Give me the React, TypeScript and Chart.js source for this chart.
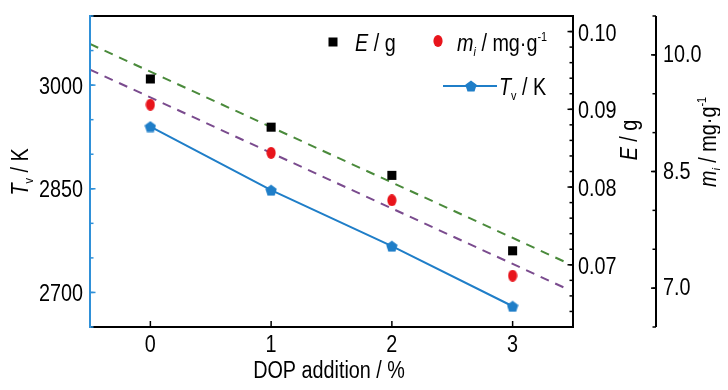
import React, { useEffect, useRef } from "react";
import { Chart, registerables } from "chart.js";

Chart.register(...registerables);

// ---------- data ----------
const doses = [0, 1, 2, 3];
const eValues = [0.0939, 0.0877, 0.0815, 0.0718];
const mValues = [9.36, 8.74, 8.13, 7.16];
const tValues = [2940, 2848, 2767, 2680];
const eFitX = [-0.5, 3.43];
const eFitY = [0.0984, 0.0704];
const mFitX = [-0.5, 3.45];
const mFitY = [9.81, 6.99];

const xTicks = [0, 1, 2, 3];
const xTickLabels = ["0", "1", "2", "3"];
const tTicks = [2700, 2850, 3000];
const tTickLabels = ["2700", "2850", "3000"];
const tMinor = [2650, 2700, 2750, 2800, 2850, 2900, 2950, 3000, 3050, 3100];
const eTicks = [0.07, 0.08, 0.09, 0.1];
const eTickLabels = ["0.07", "0.08", "0.09", "0.10"];
const eMinor = [0.064, 0.066, 0.068, 0.07, 0.072, 0.074, 0.076, 0.078, 0.08, 0.082, 0.084, 0.086, 0.088, 0.09, 0.092, 0.094, 0.096, 0.098, 0.1];
const mTicks = [7.0, 8.5, 10.0];
const mTickLabels = ["7.0", "8.5", "10.0"];
const mMinor = [6.5, 7.0, 7.5, 8.0, 8.5, 9.0, 9.5, 10.0, 10.5];

type Part = { t: string; italic?: boolean; sub?: boolean; sup?: boolean };
const legendE: Part[] = [{ t: "E", italic: true }, { t: " / g" }];
const legendM: Part[] = [{ t: "m", italic: true }, { t: "i", italic: true, sub: true }, { t: " / mg·g" }, { t: "-1", sup: true }];
const legendT: Part[] = [{ t: "T", italic: true }, { t: "v", sub: true }, { t: " / K" }];
const titleX: Part[] = [{ t: "DOP addition / %" }];
const titleT: Part[] = legendT;
const titleE: Part[] = legendE;
const titleM: Part[] = legendM;

// ---------- styles ----------
const FONT = '"Liberation Sans", Arial, sans-serif';
const FS = 23;
const SX = 0.86; // horizontal condensing (narrow sans look)
const BLUE_LINE = "#1f7ec8";
const BLUE_AXIS = "#2f90d8";
const RED = "#e8141b";
const GREEN = "#4a8a3b";
const PURPLE = "#7a4b8e";

function makePentagon(): HTMLCanvasElement {
  const c = document.createElement("canvas");
  c.width = 12;
  c.height = 12;
  const g = c.getContext("2d")!;
  g.fillStyle = BLUE_LINE;
  g.beginPath();
  for (let k = 0; k < 5; k++) {
    const ang = (-90 + 72 * k) * Math.PI / 180;
    const px = 6 + 6 * Math.cos(ang);
    const py = 6.6 + 6 * Math.sin(ang);
    if (k === 0) g.moveTo(px, py); else g.lineTo(px, py);
  }
  g.closePath();
  g.fill();
  return c;
}

function makeEllipse(): HTMLCanvasElement {
  const c = document.createElement("canvas");
  c.width = 10;
  c.height = 12;
  const g = c.getContext("2d")!;
  g.fillStyle = RED;
  g.beginPath();
  g.ellipse(5, 6, 4.6, 5.9, 0, 0, Math.PI * 2);
  g.fill();
  return c;
}

function partFont(p: Part, size: number) {
  const s = p.sub || p.sup ? size * 0.55 : size;
  return `${p.italic ? "italic " : ""}${s}px ${FONT}`;
}
function richWidth(ctx: CanvasRenderingContext2D, parts: Part[], size: number) {
  let w = 0;
  for (const p of parts) {
    ctx.font = partFont(p, size);
    w += ctx.measureText(p.t).width;
  }
  return w;
}
// draws rich text with horizontal condensing; align refers to the condensed width
function drawRich(ctx: CanvasRenderingContext2D, parts: Part[], x: number, y: number, size: number, align: "left" | "center" | "right") {
  const w = richWidth(ctx, parts, size);
  ctx.save();
  ctx.translate(x, y);
  ctx.scale(SX, 1);
  let cx = align === "center" ? -w / 2 : align === "right" ? -w : 0;
  ctx.textAlign = "left";
  ctx.textBaseline = "alphabetic";
  ctx.fillStyle = "#000";
  for (const p of parts) {
    ctx.font = partFont(p, size);
    const dy = p.sub ? size * 0.2 : p.sup ? -size * 0.42 : 0;
    ctx.fillText(p.t, cx, dy);
    cx += ctx.measureText(p.t).width;
  }
  ctx.restore();
}

export default function App() {
  const ref = useRef<HTMLCanvasElement | null>(null);

  useEffect(() => {
    if (!ref.current) return;
    const pent = makePentagon();
    const ell = makeEllipse();

    const line = (ctx: CanvasRenderingContext2D, x1: number, y1: number, x2: number, y2: number) => {
      ctx.beginPath();
      ctx.moveTo(x1, y1);
      ctx.lineTo(x2, y2);
      ctx.stroke();
    };

    const decor = {
      id: "decor",
      afterDraw(chart: any) {
        const { ctx, chartArea: a, scales } = chart;
        const sx = scales.x, sT = scales.yT, sE = scales.yE, sM = scales.yM;
        ctx.save();
        ctx.lineCap = "square";
        // frame
        ctx.lineWidth = 2;
        ctx.strokeStyle = "#000";
        line(ctx, a.left, a.top, a.right, a.top);
        line(ctx, a.left, a.bottom, a.right, a.bottom);
        line(ctx, a.right, a.top, a.right, a.bottom);
        ctx.strokeStyle = BLUE_AXIS;
        line(ctx, a.left, a.top, a.left, a.bottom);
        ctx.lineCap = "butt";
        ctx.lineWidth = 1.5;
        // x ticks (inward)
        ctx.strokeStyle = "#000";
        xTicks.forEach((v, i) => {
          const px = sx.getPixelForValue(v);
          line(ctx, px, a.bottom, px, a.bottom - 6);
          drawRich(ctx, [{ t: xTickLabels[i] }], px, 344, FS, "center");
        });
        // left T ticks (inward, blue)
        ctx.strokeStyle = BLUE_AXIS;
        for (const v of tMinor) {
          const py = sT.getPixelForValue(v);
          line(ctx, a.left, py, a.left + 3.5, py);
        }
        tTicks.forEach((v, i) => {
          const py = sT.getPixelForValue(v);
          line(ctx, a.left, py, a.left + 5.5, py);
          drawRich(ctx, [{ t: tTickLabels[i] }], a.left - 7, py + 8.5, FS, "right");
        });
        // right E ticks (inward)
        ctx.strokeStyle = "#000";
        for (const v of eMinor) {
          const py = sE.getPixelForValue(v);
          line(ctx, a.right, py, a.right - 3.5, py);
        }
        eTicks.forEach((v, i) => {
          const py = sE.getPixelForValue(v);
          line(ctx, a.right, py, a.right - 5.5, py);
          drawRich(ctx, [{ t: eTickLabels[i] }], a.right + 5, py + 9, FS, "left");
        });
        // m axis
        const mx = sM.left;
        ctx.lineWidth = 2;
        line(ctx, mx, a.top, mx, a.bottom);
        ctx.lineWidth = 1.5;
        for (const v of mMinor) {
          const py = sM.getPixelForValue(v);
          line(ctx, mx, py, mx - 3.5, py);
        }
        mTicks.forEach((v, i) => {
          const py = sM.getPixelForValue(v);
          line(ctx, mx, py, mx - 5, py);
          drawRich(ctx, [{ t: mTickLabels[i] }], mx + 7, py + 7, FS, "left");
        });

        // axis titles
        drawRich(ctx, titleX, 321, 370, FS, "center");
        ctx.save();
        ctx.translate(20, 164);
        ctx.rotate(-Math.PI / 2);
        drawRich(ctx, titleT, 0, 0, FS, "center");
        ctx.restore();
        ctx.save();
        ctx.translate(629, 132);
        ctx.rotate(-Math.PI / 2);
        drawRich(ctx, titleE, 0, 0, FS, "center");
        ctx.restore();
        ctx.save();
        ctx.translate(708, 134);
        ctx.rotate(-Math.PI / 2);
        drawRich(ctx, titleM, 0, 0, FS, "center");
        ctx.restore();

        // legend
        ctx.fillStyle = "#000";
        ctx.fillRect(320.5, 29.5, 9, 9);
        drawRich(ctx, legendE, 347, 43, FS, "left");
        ctx.drawImage(ell, 430 - 5, 33 - 6);
        drawRich(ctx, legendM, 449, 43, FS, "left");
        ctx.strokeStyle = BLUE_LINE;
        ctx.lineWidth = 2;
        line(ctx, 435, 78, 489, 78);
        ctx.drawImage(pent, 463 - 6, 78 - 6);
        drawRich(ctx, legendT, 491, 87, FS, "left");
        ctx.restore();
      },
    };

    const noPad = (s: any) => {
      s.paddingTop = 0;
      s.paddingBottom = 0;
      s.paddingLeft = 0;
      s.paddingRight = 0;
    };

    const chart = new Chart(ref.current, {
      type: "scatter",
      data: {
        datasets: [
          {
            label: "E",
            data: doses.map((x, i) => ({ x, y: eValues[i] })),
            yAxisID: "yE",
            pointStyle: "rect",
            pointRadius: 6.4,
            backgroundColor: "#000",
            borderColor: "#000",
            borderWidth: 0,
            showLine: false,
          },
          {
            label: "m",
            data: doses.map((x, i) => ({ x, y: mValues[i] })),
            yAxisID: "yM",
            pointStyle: ell,
            pointRadius: 6,
            showLine: false,
          },
          {
            label: "T",
            data: doses.map((x, i) => ({ x, y: tValues[i] })),
            yAxisID: "yT",
            pointStyle: pent,
            pointRadius: 6,
            showLine: true,
            borderColor: BLUE_LINE,
            borderWidth: 2,
            tension: 0,
          },
          {
            label: "Efit",
            data: eFitX.map((x, i) => ({ x, y: eFitY[i] })),
            yAxisID: "yE",
            showLine: true,
            pointRadius: 0,
            borderColor: GREEN,
            borderWidth: 2,
            borderDash: [9, 7],
          },
          {
            label: "mfit",
            data: mFitX.map((x, i) => ({ x, y: mFitY[i] })),
            yAxisID: "yM",
            showLine: true,
            pointRadius: 0,
            borderColor: PURPLE,
            borderWidth: 2,
            borderDash: [9, 7],
          },
        ],
      },
      options: {
        responsive: false,
        animation: false,
        layout: { padding: { top: 7, left: 0, right: 0, bottom: 0 } },
        plugins: { legend: { display: false }, tooltip: { enabled: false } },
        scales: {
          x: {
            type: "linear",
            position: "bottom",
            min: -0.5,
            max: 3.5,
            grid: { display: false, drawTicks: false },
            border: { display: false },
            ticks: { display: false },
            afterFit: (s: any) => { s.height = 55; noPad(s); },
          },
          yT: {
            type: "linear",
            position: "left",
            min: 2650,
            max: 3100,
            grid: { display: false, drawTicks: false },
            border: { display: false },
            ticks: { display: false },
            afterFit: (s: any) => { s.width = 82; noPad(s); },
          },
          yE: {
            type: "linear",
            position: "right",
            min: 0.062,
            max: 0.102,
            grid: { display: false, drawTicks: false },
            border: { display: false },
            ticks: { display: false },
            afterFit: (s: any) => { s.width = 83; noPad(s); },
          },
          yM: {
            type: "linear",
            position: "right",
            min: 6.5,
            max: 10.5,
            grid: { display: false, drawTicks: false },
            border: { display: false },
            ticks: { display: false },
            afterFit: (s: any) => { s.width = 64; noPad(s); },
          },
        },
      } as any,
      plugins: [decor],
    });
    return () => chart.destroy();
  }, []);

  return <canvas ref={ref} width={712} height={374} style={{ display: "block" }} />;
}
